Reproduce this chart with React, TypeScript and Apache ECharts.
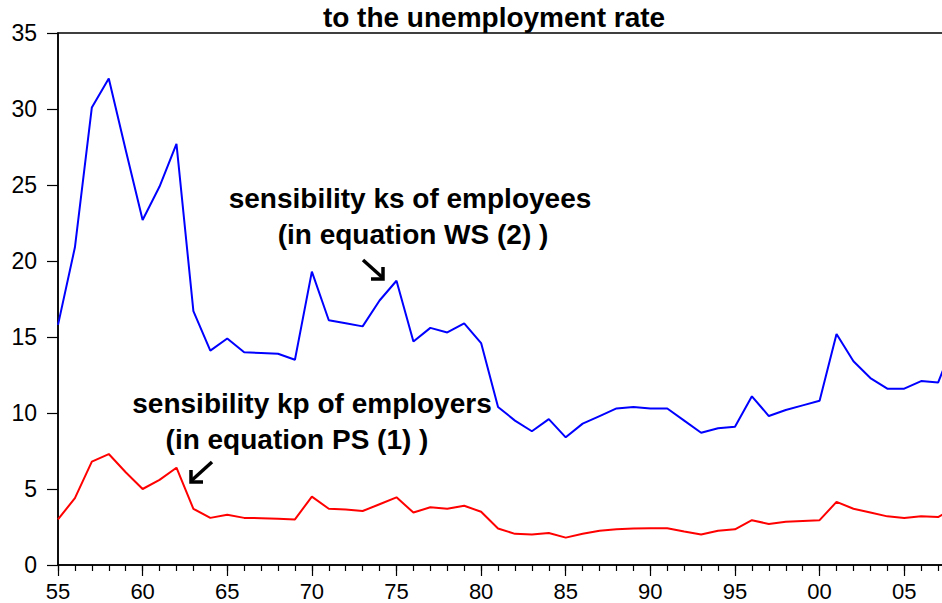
import React, { useEffect, useRef } from "react";
import * as echarts from "echarts";

const firstYear = 1955;
const lastYear = 2008;
const years: number[] = [];
for (let y = firstYear; y <= lastYear; y++) years.push(y);

// sensibility ks of employees (WS equation)
const ks = [
  15.8, 20.9, 30.1, 32.0, 27.3, 22.7, 24.9, 27.7, 16.7, 14.1,
  14.9, 14.0, 13.95, 13.9, 13.5, 19.3, 16.1, 15.9, 15.7, 17.4,
  18.7, 14.7, 15.6, 15.3, 15.9, 14.6, 10.4, 9.5, 8.8, 9.6,
  8.4, 9.3, 9.8, 10.3, 10.4, 10.3, 10.3, 9.5, 8.7, 9.0,
  9.1, 11.1, 9.8, 10.2, 10.5, 10.8, 15.2, 13.4, 12.3, 11.6,
  11.6, 12.1, 12.0, 14.8,
];

// sensibility kp of employers (PS equation)
const kp = [
  3.0, 4.4, 6.8, 7.3, 6.1, 5.0, 5.6, 6.4, 3.7, 3.1,
  3.3, 3.1, 3.08, 3.05, 3.0, 4.5, 3.7, 3.65, 3.55, 4.0,
  4.45, 3.45, 3.8, 3.7, 3.9, 3.5, 2.4, 2.05, 2.0, 2.1,
  1.8, 2.05, 2.25, 2.35, 2.4, 2.42, 2.42, 2.2, 2.0, 2.25,
  2.35, 2.95, 2.7, 2.85, 2.9, 2.95, 4.15, 3.7, 3.45, 3.2,
  3.1, 3.2, 3.15, 3.8,
];

const titleText = "to the unemployment rate";
const noteKs = ["sensibility ks of employees", "(in equation WS (2) )"];
const noteKp = ["sensibility kp of employers", "(in equation PS (1) )"];

const FONT = "'Liberation Sans', Arial, sans-serif";

export default function App() {
  const ref = useRef<HTMLDivElement>(null);

  useEffect(() => {
    if (!ref.current) return;
    const chart = echarts.init(ref.current, null, { renderer: "svg" });
    const cats = years.map(String);
    const isMajor = (idx: number) => (years[idx] % 5 === 0);

    const boldText = (text: string, x: number, y: number) => ({
      type: "text",
      x,
      y,
      style: {
        text,
        fill: "#000",
        font: `bold 28px ${FONT}`,
        align: "center",
        verticalAlign: "middle",
      },
    });

    chart.setOption({
      animation: false,
      backgroundColor: "#fff",
      grid: {
        left: 58,
        right: 5,
        top: 33,
        bottom: 38,
        show: true,
        borderColor: "#000",
        borderWidth: 1.5,
        containLabel: false,
        outerBoundsMode: "none",
      },
      xAxis: [
        {
          type: "category",
          data: cats,
          boundaryGap: false,
          axisLine: { show: true, lineStyle: { color: "#000", width: 1.5 } },
          axisTick: {
            show: true,
            interval: 0,
            length: 6,
            lineStyle: { color: "#000", width: 1.2 },
          },
          axisLabel: { show: false },
          splitLine: { show: false },
        },
        {
          type: "category",
          data: cats,
          boundaryGap: false,
          position: "bottom",
          axisLine: { show: false },
          axisTick: {
            show: true,
            interval: (idx: number) => isMajor(idx),
            length: 11,
            lineStyle: { color: "#000", width: 1.2 },
          },
          axisLabel: {
            show: true,
            interval: (idx: number) => isMajor(idx),
            formatter: (v: string) => v.slice(2),
            color: "#000",
            fontSize: 22,
            fontFamily: FONT,
            margin: 15,
          },
          splitLine: { show: false },
        },
      ],
      yAxis: {
        type: "value",
        min: 0,
        max: 35,
        interval: 5,
        axisLine: { show: true, lineStyle: { color: "#000", width: 1.5 } },
        axisTick: {
          show: true,
          inside: false,
          length: 11,
          lineStyle: { color: "#000", width: 1.2 },
        },
        axisLabel: {
          color: "#000",
          fontSize: 23,
          fontFamily: FONT,
          margin: 21,
        },
        splitLine: { show: false },
      },
      series: [
        {
          name: "ks",
          type: "line",
          xAxisIndex: 0,
          data: ks,
          showSymbol: false,
          lineStyle: { color: "#0000ff", width: 2 },
          itemStyle: { color: "#0000ff" },
        },
        {
          name: "kp",
          type: "line",
          xAxisIndex: 0,
          data: kp,
          showSymbol: false,
          lineStyle: { color: "#ff0000", width: 2 },
          itemStyle: { color: "#ff0000" },
        },
      ],
      graphic: [
        boldText(titleText, 494, 17),
        boldText(noteKs[0], 410, 198),
        boldText(noteKs[1], 413, 234),
        boldText(noteKp[0], 312, 403),
        boldText(noteKp[1], 297, 439),
        {
          type: "polyline",
          shape: { points: [[363, 260], [383, 278]] },
          style: { stroke: "#000", lineWidth: 3.5, fill: null },
        },
        {
          type: "polyline",
          shape: { points: [[383, 267], [383, 279], [371, 279]] },
          style: { stroke: "#000", lineWidth: 3.5, fill: null },
        },
        {
          type: "polyline",
          shape: { points: [[212, 462], [191, 481]] },
          style: { stroke: "#000", lineWidth: 3.5, fill: null },
        },
        {
          type: "polyline",
          shape: { points: [[191, 470], [191, 482], [203, 482]] },
          style: { stroke: "#000", lineWidth: 3.5, fill: null },
        },
      ],
    });

    return () => chart.dispose();
  }, []);

  return (
    <div
      style={{
        position: "fixed",
        left: 0,
        top: 0,
        width: 942,
        height: 603,
        overflow: "hidden",
        background: "#fff",
      }}
    >
      <div ref={ref} style={{ width: 960, height: 603 }} />
    </div>
  );
}
